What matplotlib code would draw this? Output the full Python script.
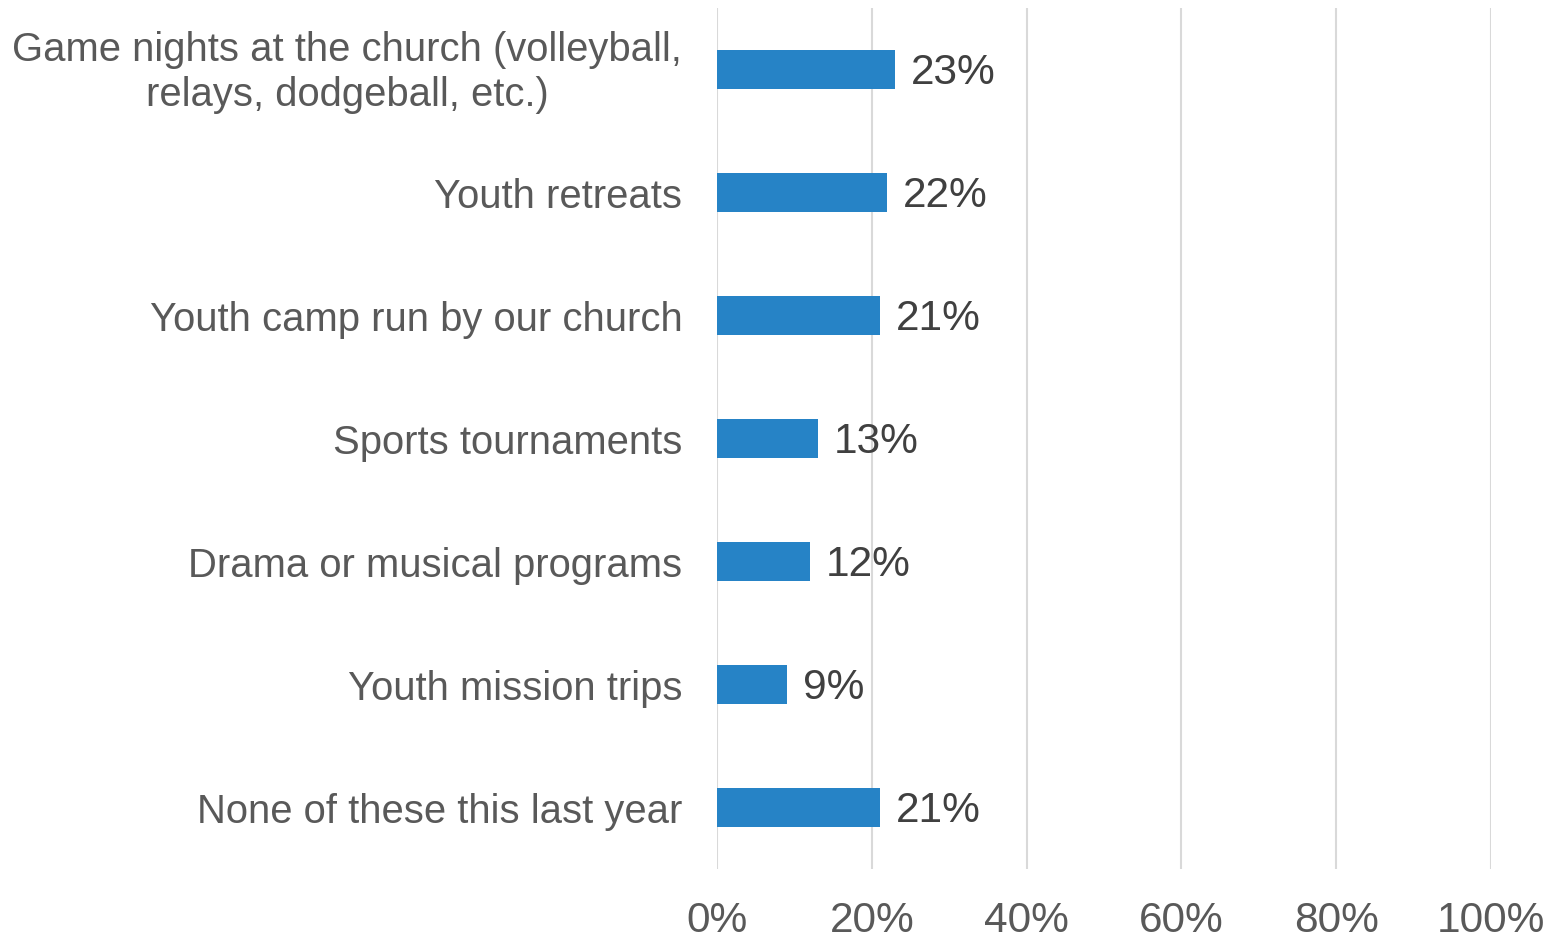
import matplotlib
matplotlib.use("Agg")
import matplotlib.pyplot as plt
import matplotlib.transforms as mtransforms
from matplotlib.ticker import FuncFormatter

categories = [
    "Game nights at the church (volleyball,\nrelays, dodgeball, etc.)",
    "Youth retreats",
    "Youth camp run by our church",
    "Sports tournaments",
    "Drama or musical programs",
    "Youth mission trips",
    "None of these this last year",
]
values = [23, 22, 21, 13, 12, 9, 21]
xticks = [0, 20, 40, 60, 80, 100]

plt.rcParams['font.family'] = ['Liberation Sans', 'DejaVu Sans']

fig = plt.figure(figsize=(15.59, 9.38), dpi=100)
W, H = 1559, 938
left, right, top, bottom = 717, 1491, 8, 869
ax = fig.add_axes([left / W, 1 - bottom / H, (right - left) / W, (bottom - top) / H])

y = list(range(len(categories)))
ax.barh(y, values, height=0.31, color="#2683C6", zorder=3)
ax.set_ylim(len(categories) - 0.5, -0.5)
ax.set_xlim(0, 100)
ax.set_xticks(xticks)
ax.xaxis.set_major_formatter(FuncFormatter(lambda v, p: f"{int(v)}%"))
ax.grid(axis="x", color="#D9D9D9", linewidth=1.5, zorder=0)
for s in ax.spines.values():
    s.set_visible(False)
ax.tick_params(axis="both", length=0)
ax.tick_params(axis="x", labelsize=30.5, labelcolor="#595959", pad=23)
ax.set_yticks(y)
ax.set_yticklabels(categories, fontsize=28.8, color="#595959", ha="right",
                   multialignment="center", linespacing=1.25)
ax.tick_params(axis="y", pad=25)

# nudge the two-line label up slightly
for lab in ax.get_yticklabels():
    if "\n" in lab.get_text():
        lab.set_transform(lab.get_transform() +
                          mtransforms.ScaledTranslation(0, 5 / 100, fig.dpi_scale_trans))

for yi, v in zip(y, values):
    ax.annotate(f"{v}%", (v, yi), xytext=(16, -3), textcoords="offset pixels",
                va="center", ha="left", fontsize=30.5, color="#404040")

fig.savefig("out.png", dpi=100)
